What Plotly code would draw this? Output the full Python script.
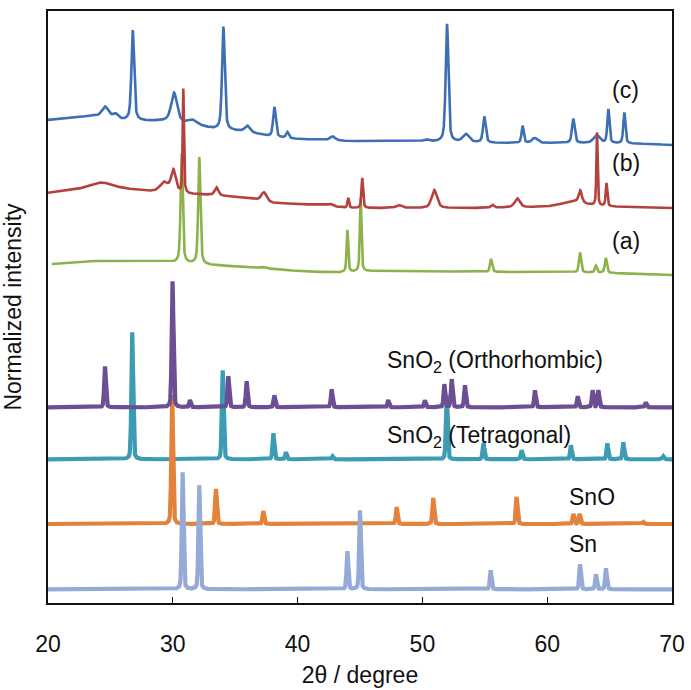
import numpy as np
import plotly.graph_objects as go

# ---------------- data ----------------
# Peak tables: position (2θ, degree), height (intensity units), FWHM (degree)
# Baselines: anchor points (2θ, intensity units)

# (c) experimental
c_pos = [24.57, 25.4, 26.79, 30.1, 31.6, 34.05, 35.97, 38.14, 39.18, 42.8, 50.3, 51.97, 53.5, 54.96, 58.03, 59.0, 62.09, 63.97, 64.9, 66.18]
c_hgt = [10, 4, 90, 29, 4, 103, 6, 30, 6, 4, 2, 118, 8, 26, 17, 5, 24, 8, 34, 31]
c_fw = [0.6, 0.4, 0.25, 0.55, 0.8, 0.25, 0.5, 0.25, 0.25, 0.5, 0.5, 0.25, 0.6, 0.25, 0.2, 0.5, 0.25, 0.6, 0.2, 0.2]
c_base_x = [20.0, 23.4, 25.0, 26.0, 28.0, 29.5, 31.5, 33.3, 36.0, 38.0, 40.0, 44.0, 50.0, 56.0, 62.0, 68.0, 70.0]
c_base_y = [483, 487, 486, 483, 482, 482, 479, 474, 471, 466, 464, 462, 461.5, 460, 460, 459, 458]

# (b) experimental
b_pos = [24.2, 29.3, 30.05, 30.84, 33.5, 37.3, 42.6, 44.06, 45.18, 48.1, 50.95, 55.6, 57.6, 62.0, 62.65, 63.99, 64.75]
b_hgt = [6, 10, 22, 104, 8, 9, 2, 10, 30, 3, 18, 3, 9, 5, 12, 73, 23]
b_fw = [2.0, 0.8, 0.45, 0.12, 0.35, 0.5, 0.4, 0.15, 0.15, 0.5, 0.5, 0.3, 0.5, 2.0, 0.3, 0.12, 0.15]
b_base_x = [20.0, 22.0, 25.0, 27.0, 28.5, 31.0, 33.0, 36.0, 38.0, 42.0, 44.0, 50.0, 55.0, 60.0, 63.0, 66.0, 70.0]
b_base_y = [410, 413, 415, 413, 411, 409, 408, 405, 400, 398, 395, 395, 395, 396, 397, 396, 395]

# (a) experimental
a_pos = [30.71, 32.12, 37.2, 43.99, 45.05, 55.5, 62.63, 63.9, 64.7]
a_hgt = [109, 107, 1.5, 42, 73, 13, 20, 7, 15]
a_fw = [0.2, 0.2, 0.5, 0.15, 0.15, 0.2, 0.2, 0.2, 0.2]
a_base_x = [20.3, 23.0, 27.0, 29.5, 33.0, 37.0, 40.0, 43.0, 46.0, 50.0, 55.0, 60.0, 65.0, 70.0]
a_base_y = [339, 342, 342, 341, 338, 335, 332, 330.3, 332, 332, 331, 331, 330, 328]

# SnO2 (Orthorhombic) reference pattern
o_pos = [24.57, 29.98, 31.38, 34.45, 35.92, 38.14, 42.73, 47.27, 50.2, 51.76, 52.35, 53.41, 59.02, 62.45, 63.64, 64.1, 67.9]
o_hgt = [41, 126, 7, 31, 26, 12, 18, 7, 7, 23, 28, 22, 17, 11, 17, 17, 5]
o_base = 195.7

# SnO2 (Tetragonal) reference pattern
t_pos = [26.75, 34.0, 38.06, 39.07, 42.8, 51.95, 54.9, 57.95, 61.9, 64.82, 66.1, 69.3]
t_hgt = [127, 89, 26, 7, 3, 64, 16, 9, 14, 16, 17, 3]
t_base = 143.7

# SnO reference pattern
s_pos = [29.95, 33.46, 37.25, 47.94, 50.87, 57.55, 62.1, 62.6, 67.7]
s_hgt = [129, 35, 13, 17, 26, 27, 10, 10, 2]
s_base = 79.0

# Sn reference pattern
n_pos = [30.79, 32.12, 43.99, 45.0, 55.47, 62.63, 63.91, 64.71]
n_hgt = [117, 104, 38, 79, 19, 25, 15, 21]
n_base = 13.7

x_ticks = [20, 30, 40, 50, 60, 70]

# ---------------- profiles ----------------
x = np.linspace(20, 70, 5001)


def pv(pos, hgt, fw, eta):
    y = np.zeros_like(x)
    for p, h, w in zip(pos, hgt, fw):
        d = (x - p) / w
        y += h * (eta / (1 + 4 * d * d) + (1 - eta) * np.exp(-4 * np.log(2) * d * d))
    return y


def experimental(pos, hgt, fw, bx, by):
    xs = x[x >= bx[0]]
    base = np.interp(xs, bx, by)
    prof = pv(pos, hgt, fw, 0.55)[x >= bx[0]]
    return xs, base + prof


def reference(pos, hgt, base):
    return x, base + pv(pos, hgt, [0.16] * len(pos), 0.3)


fig = go.Figure()

# simulated patterns (thick lines)
for name, (xs, ys), col in [
    ("SnO2 (Tetragonal)", reference(t_pos, t_hgt, t_base), "#3c9cb4"),
    ("SnO", reference(s_pos, s_hgt, s_base), "#e3833b"),
    ("Sn", reference(n_pos, n_hgt, n_base), "#95aad6"),
    ("SnO2 (Orthorhombic)", reference(o_pos, o_hgt, o_base), "#6c4e93"),
]:
    fig.add_trace(go.Scatter(x=xs, y=ys, mode="lines", name=name,
                             line=dict(color=col, width=4.2), showlegend=False))

# experimental patterns
for name, (xs, ys), col in [
    ("(a)", experimental(a_pos, a_hgt, a_fw, a_base_x, a_base_y), "#8db24c"),
    ("(c)", experimental(c_pos, c_hgt, c_fw, c_base_x, c_base_y), "#3d6fb4"),
    ("(b)", experimental(b_pos, b_hgt, b_fw, b_base_x, b_base_y), "#b5413f"),
]:
    fig.add_trace(go.Scatter(x=xs, y=ys, mode="lines", name=name,
                             line=dict(color=col, width=2.6), showlegend=False))

FONT = "Liberation Sans, Arial, sans-serif"

labels = [
    ("(c)", 65.05, 513),
    ("(b)", 65.05, 440),
    ("(a)", 65.05, 362),
    ("SnO<sub>2</sub> (Orthorhombic)", 47.0, 241.5),
    ("SnO<sub>2</sub> (Tetragonal)", 47.0, 167),
    ("SnO", 61.6, 106),
    ("Sn", 61.6, 59),
]
for txt, lx, ly in labels:
    fig.add_annotation(x=lx, y=ly, xref="x", yref="y", text=txt, showarrow=False,
                       xanchor="left", yanchor="middle",
                       font=dict(family=FONT, size=23, color="#111111"))

fig.update_layout(
    width=691, height=690,
    margin=dict(l=48, r=19, t=11, b=87, autoexpand=False),
    paper_bgcolor="white", plot_bgcolor="white",
    font=dict(family=FONT, size=23, color="#111111"),
    xaxis=dict(range=[20, 70], tickvals=x_ticks, ticktext=[str(v) for v in x_ticks],
               ticks="inside", ticklen=6, tickwidth=1.3, tickcolor="#111111",
               showline=True, linecolor="#111111", linewidth=1.5, mirror=True,
               showgrid=False, zeroline=False, ticklabelstandoff=20,
               tickfont=dict(size=23), automargin=False,
               title=dict(text="2θ / degree", font=dict(size=23), standoff=11)),
    yaxis=dict(range=[0, 592], showticklabels=False, ticks="",
               showline=True, linecolor="#111111", linewidth=1.5, mirror=True,
               showgrid=False, zeroline=False, automargin=False,
               title=dict(text="Normalized intensity", font=dict(size=23), standoff=22)),
)

fig.write_html("out.html", config={"displayModeBar": False},
               post_script="document.body.style.margin='0px';document.body.style.overflow='hidden';")
